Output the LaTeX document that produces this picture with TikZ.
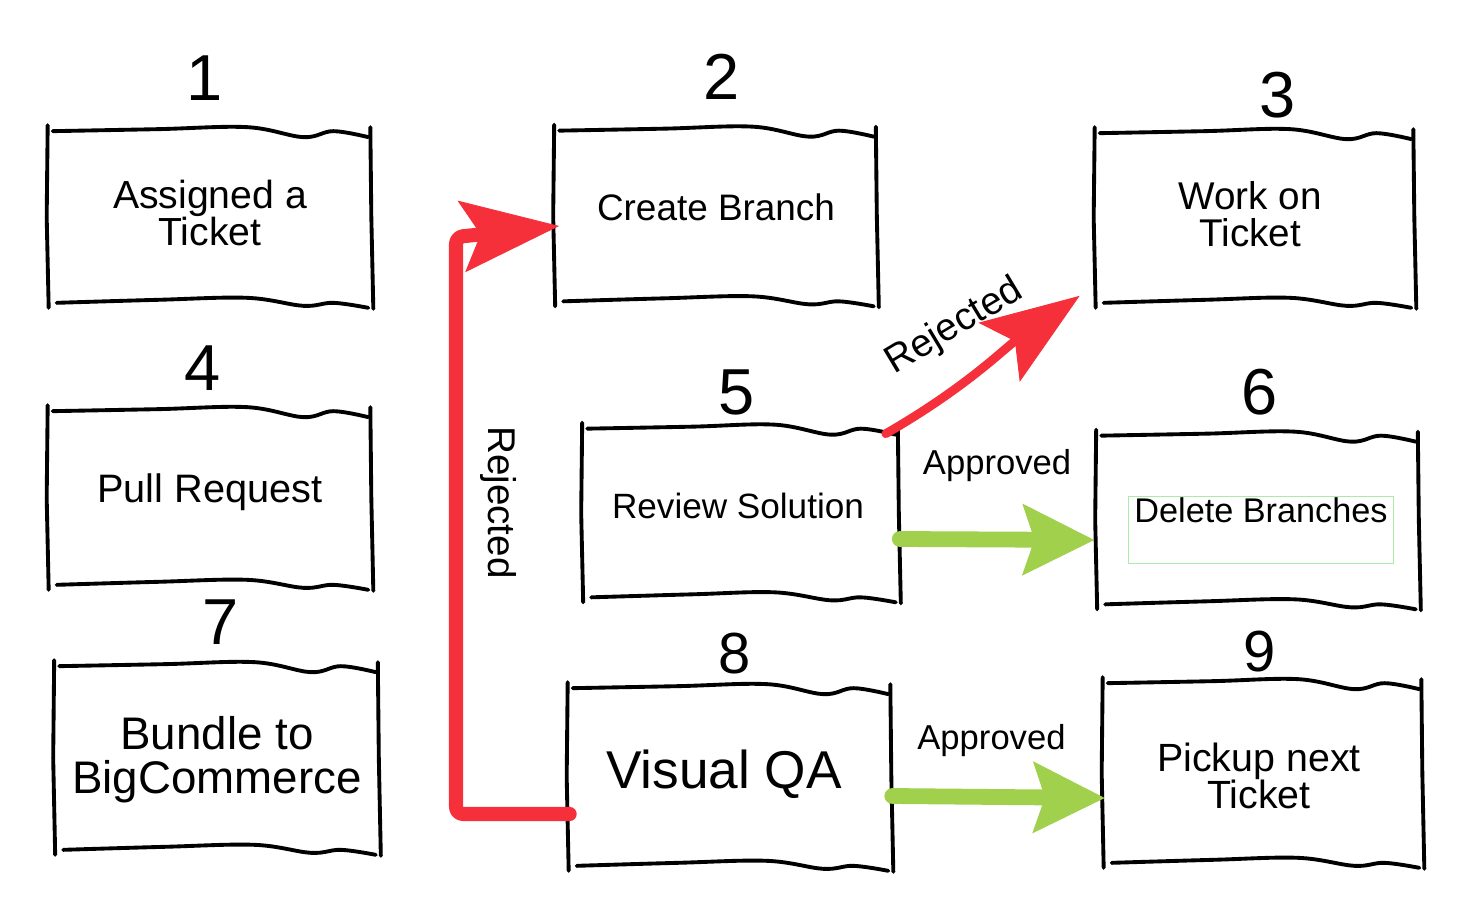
\documentclass[tikz,border=0pt]{standalone}
\usepackage{fontspec}
\setmainfont{Liberation Sans}
\usetikzlibrary{arrows.meta,calc,positioning}

\definecolor{rejred}{RGB}{245,48,58}
\definecolor{okgreen}{RGB}{160,208,76}
\definecolor{hlgreen}{RGB}{172,234,172}

\tikzset{
  sbox/.style={inner sep=0pt},
  btext/.style={inner sep=0pt, align=center},
  sketch/.style={line width=2.2pt, line cap=round, line join=round},
  num/.style={inner sep=0pt, font=\fontsize{37}{37}\selectfont},
  lbl/.style={font=\fontsize{19.7}{20}\selectfont},
  rejline/.style={draw=rejred, line cap=round, line join=round,
    -{Stealth[length=56pt, width=41pt, inset=11pt, line width=0.5pt]}},
  okline/.style={draw=okgreen, line width=9pt, line cap=round,
    -{Stealth[length=41pt, width=41pt, inset=7pt, line width=0.5pt]}},
}

% hand drawn outline round a box node
\newcommand{\sketchbox}[1]{%
  \draw[sketch] plot[smooth, tension=.6] coordinates {
    ([shift={(5,-1)}]#1.north west) ([shift={(110,1)}]#1.north west)
    ([shift={(-125,3)}]#1.north east) ([shift={(-69,-7)}]#1.north east)
    ([shift={(-39,-1)}]#1.north east) ([shift={(-4,-7)}]#1.north east)};
  \draw[sketch] plot[smooth, tension=.6] coordinates {
    ([shift={(9,1)}]#1.south west) ([shift={(110,4)}]#1.south west)
    ([shift={(-125,6)}]#1.south east) ([shift={(-69,-2)}]#1.south east)
    ([shift={(-39,1)}]#1.south east) ([shift={(-4,-4)}]#1.south east)};
  \draw[sketch] ([shift={(0,5)}]#1.north west) -- ([shift={(-1,0)}]#1.west) -- ([shift={(1,-4)}]#1.south west);
  \draw[sketch] ([shift={(-2,3)}]#1.north east) -- ([shift={(-1,0)}]#1.east) -- ([shift={(1,-5)}]#1.south east);
}

\begin{document}
\begin{tikzpicture}[x=0.02cm,y=0.02cm]
\useasboundingbox (0,0) rectangle (1470,920);
\node[sbox, minimum width=6.48cm, minimum height=3.46cm,
  label={[btext, yshift=2.3pt, font=\fontsize{22.3}{21}\selectfont]center:Assigned a\\Ticket}] (b1) at (210,703) {};
\node[sbox, minimum width=6.46cm, minimum height=3.44cm,
  label={[btext, yshift=5pt, font=\fontsize{21}{21}\selectfont]center:Create Branch}] (b2) at (716,704) {};
\node[sbox, minimum width=6.40cm, minimum height=3.42cm,
  label={[btext, xshift=-2.8pt, yshift=2.3pt, font=\fontsize{22}{21}\selectfont]center:Work on\\Ticket}] (b3) at (1255,702) {};
\node[sbox, minimum width=6.48cm, minimum height=3.50cm,
  label={[btext, yshift=3.4pt, font=\fontsize{22.6}{22}\selectfont]center:Pull Request}] (b4) at (210,422) {};
\node[sbox, minimum width=6.34cm, minimum height=3.40cm,
  label={[btext, xshift=-1.7pt, yshift=4pt, font=\fontsize{20}{20}\selectfont]center:Review Solution}] (b5) at (741,407) {};
\node[sbox, minimum width=6.46cm, minimum height=3.40cm] (b6) at (1258,400) {};
\node[sbox, minimum width=6.50cm, minimum height=3.70cm,
  label={[btext, yshift=-1pt, font=\fontsize{26}{25.5}\selectfont]center:Bundle to\\BigCommerce}] (b7) at (217,162) {};
\node[sbox, minimum width=6.48cm, minimum height=3.58cm,
  label={[btext, xshift=-3.4pt, yshift=1.7pt, font=\fontsize{30.3}{30}\selectfont]center:Visual QA}] (b8) at (730,143) {};
\node[sbox, minimum width=6.40cm, minimum height=3.62cm,
  label={[btext, xshift=-2.3pt, yshift=-1.7pt, font=\fontsize{22.4}{21}\selectfont]center:Pickup next\\Ticket}] (b9) at (1263,147) {};
\node[draw=hlgreen, line width=0.9pt, inner sep=0pt, minimum width=5.3cm, text height=14.7pt, text depth=23.2pt,
  font=\fontsize{19.5}{19.5}\selectfont] (t6) at (1261,390) {Delete Branches};

\node[num] (n1) at (205,842) {1};
\node[num] (n2) at (722,843) {2};
\node[num] (n3) at (1278,825) {3};
\node[num] (n4) at (203,552) {4};
\node[num] (n5) at (737,528) {5};
\node[num] (n6) at (1260,528) {6};
\node[num] (n7) at (221,298) {7};
\node[num, font=\fontsize{33}{33}\selectfont] (n8) at (735,266) {8};
\node[num, font=\fontsize{33}{33}\selectfont] (n9) at (1260,268) {9};

\sketchbox{b1}
\sketchbox{b2}
\sketchbox{b3}
\sketchbox{b4}
\sketchbox{b5}
\sketchbox{b6}
\sketchbox{b7}
\sketchbox{b8}
\sketchbox{b9}

\coordinate (rb) at (456,106);
\coordinate (rt) at (456,683);
\draw[rejline, line width=8pt, rounded corners=4pt] ([shift={(2,-37)}]b8.west) -- (rb)
  -- node[lbl, pos=.54, xshift=24pt, rotate=-90, font=\fontsize{22}{22}\selectfont] {Rejected} (rt)
  -- ([shift={(5,-10)}]b2.west);
\draw[rejline, line width=5pt] ([shift={(-14,-6)}]b5.north east) to[out=30,in=-145]
  node[lbl, pos=.5, xshift=-17pt, yshift=23pt, rotate=31, font=\fontsize{22}{22}\selectfont] {Rejected}
  ([shift={(-15,8)}]b3.south west);
\draw[okline] ([shift={(0,-26)}]b5.east) -- node[lbl, above=25pt] {Approved} ([shift={(-2,-20)}]b6.west);
\draw[okline] ([shift={(0,-19)}]b8.east) -- node[lbl, above=15pt, xshift=-4pt] {Approved} ([shift={(2,-25)}]b9.west);
\end{tikzpicture}
\end{document}
